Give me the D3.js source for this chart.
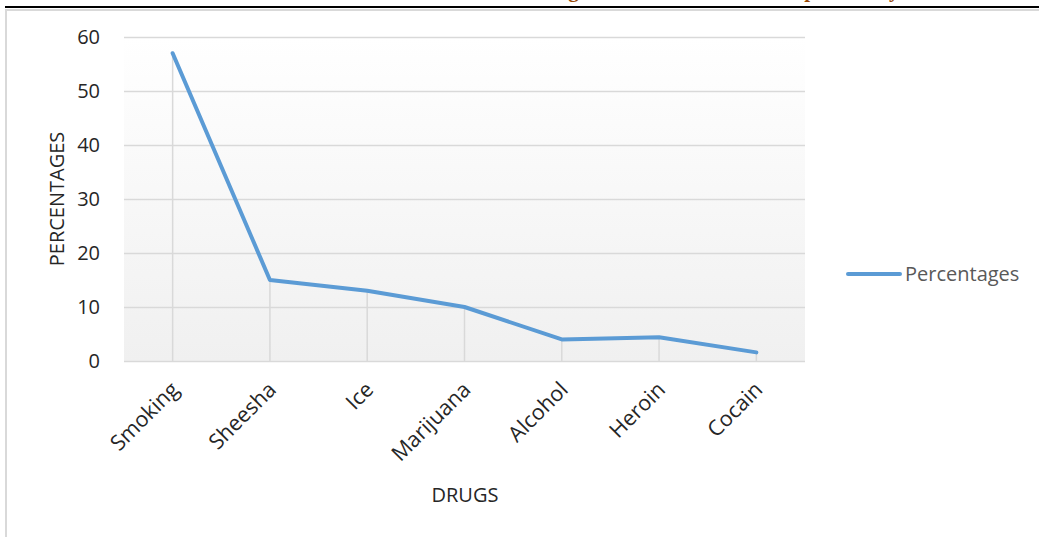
<!DOCTYPE html>
<html>
<head>
<meta charset="utf-8">
<script src="https://cdn.jsdelivr.net/npm/d3@7"></script>
<style>
  html, body { margin: 0; padding: 0; background: #fff; }
  svg { display: block; }
</style>
</head>
<body>
<svg id="chart" width="1039" height="537"></svg>
<script>
// Share of respondents reporting use of each drug
const drugs = ["Smoking", "Sheesha", "Ice", "Marijuana", "Alcohol", "Heroin", "Cocain"];
const percentages = [57, 15, 13, 10, 4, 4.4, 1.6];
const yTicks = [0, 10, 20, 30, 40, 50, 60];
const seriesName = "Percentages";

const W = 1039, H = 537;
const plot = { left: 124, right: 805, top: 37, bottom: 361 };
const font = "'Open Sans', Lato, sans-serif";
const fs = 20;

const svg = d3.select("#chart");

// page heading (runs off the top edge) and page rule
svg.append("text")
  .attr("x", 532).attr("y", -3)
  .attr("font-family", "'Liberation Serif', serif")
  .attr("font-weight", "bold")
  .attr("font-size", 21)
  .attr("fill", "#984806")
  .text("Drugs Abused Within the Sample Survey");

svg.append("line")
  .attr("x1", 5).attr("x2", W).attr("y1", 7).attr("y2", 7)
  .attr("stroke", "#000").attr("stroke-width", 2);

// chart frame
svg.append("path")
  .attr("d", `M6,${H} V10 H${W}`)
  .attr("fill", "none").attr("stroke", "#d9d9d9").attr("stroke-width", 2);

// plot-area background gradient
const defs = svg.append("defs");
const grad = defs.append("linearGradient")
  .attr("id", "plotBg").attr("x1", 0).attr("y1", 0).attr("x2", 0).attr("y2", 1);
grad.append("stop").attr("offset", "0%").attr("stop-color", "#ffffff");
grad.append("stop").attr("offset", "100%").attr("stop-color", "#f0f0f0");

svg.append("rect")
  .attr("x", plot.left).attr("y", plot.top)
  .attr("width", plot.right - plot.left).attr("height", plot.bottom - plot.top)
  .attr("fill", "url(#plotBg)");

const x = d3.scalePoint().domain(drugs)
  .range([plot.left, plot.right]).padding(0.5);
const y = d3.scaleLinear().domain([0, 60]).range([plot.bottom, plot.top]);

// horizontal gridlines + y tick labels
const yAxis = d3.axisLeft(y).tickValues(yTicks)
  .tickSize(-(plot.right - plot.left)).tickPadding(24);
const gy = svg.append("g")
  .attr("transform", `translate(${plot.left},0)`)
  .call(yAxis);
gy.select(".domain").remove();
gy.selectAll(".tick line").attr("stroke", "#d9d9d9").attr("stroke-width", 1.5);
gy.selectAll(".tick text")
  .attr("font-family", font).attr("font-size", fs).attr("fill", "#262626");

// drop lines from each point to the category axis
svg.append("g").selectAll("line")
  .data(drugs)
  .join("line")
  .attr("x1", d => x(d)).attr("x2", d => x(d))
  .attr("y1", (d, i) => y(percentages[i])).attr("y2", plot.bottom)
  .attr("stroke", "#d9d9d9").attr("stroke-width", 1.5);

// category labels
const xAxis = d3.axisBottom(x).tickSize(0).tickPadding(0);
const gx = svg.append("g")
  .attr("transform", `translate(0,${plot.bottom})`)
  .call(xAxis);
gx.select(".domain").remove();
gx.selectAll(".tick text")
  .attr("font-family", font).attr("font-size", 21.5).attr("fill", "#262626")
  .attr("text-anchor", "end")
  .attr("dy", 0)
  .attr("transform", "translate(7,30) rotate(-45)");

// series line
const line = d3.line()
  .x((d, i) => x(drugs[i]))
  .y(d => y(d));

svg.append("path")
  .datum(percentages)
  .attr("d", line)
  .attr("fill", "none")
  .attr("stroke", "#5b9bd5")
  .attr("stroke-width", 4)
  .attr("stroke-linecap", "round")
  .attr("stroke-linejoin", "round");

// axis titles
svg.append("text")
  .attr("transform", `translate(64,${(plot.top + plot.bottom) / 2}) rotate(-90)`)
  .attr("text-anchor", "middle")
  .attr("font-family", font).attr("font-size", fs).attr("fill", "#262626")
  .text("PERCENTAGES");

svg.append("text")
  .attr("x", 465).attr("y", 502)
  .attr("text-anchor", "middle")
  .attr("font-family", font).attr("font-size", fs).attr("fill", "#262626")
  .text("DRUGS");

// legend
const legend = svg.append("g").attr("transform", "translate(848,274)");
legend.append("line")
  .attr("x1", 0).attr("x2", 52).attr("y1", 0).attr("y2", 0)
  .attr("stroke", "#5b9bd5").attr("stroke-width", 4).attr("stroke-linecap", "round");
legend.append("text")
  .attr("x", 57).attr("y", 7)
  .attr("font-family", font).attr("font-size", fs).attr("fill", "#595959")
  .text(seriesName);
</script>
</body>
</html>
